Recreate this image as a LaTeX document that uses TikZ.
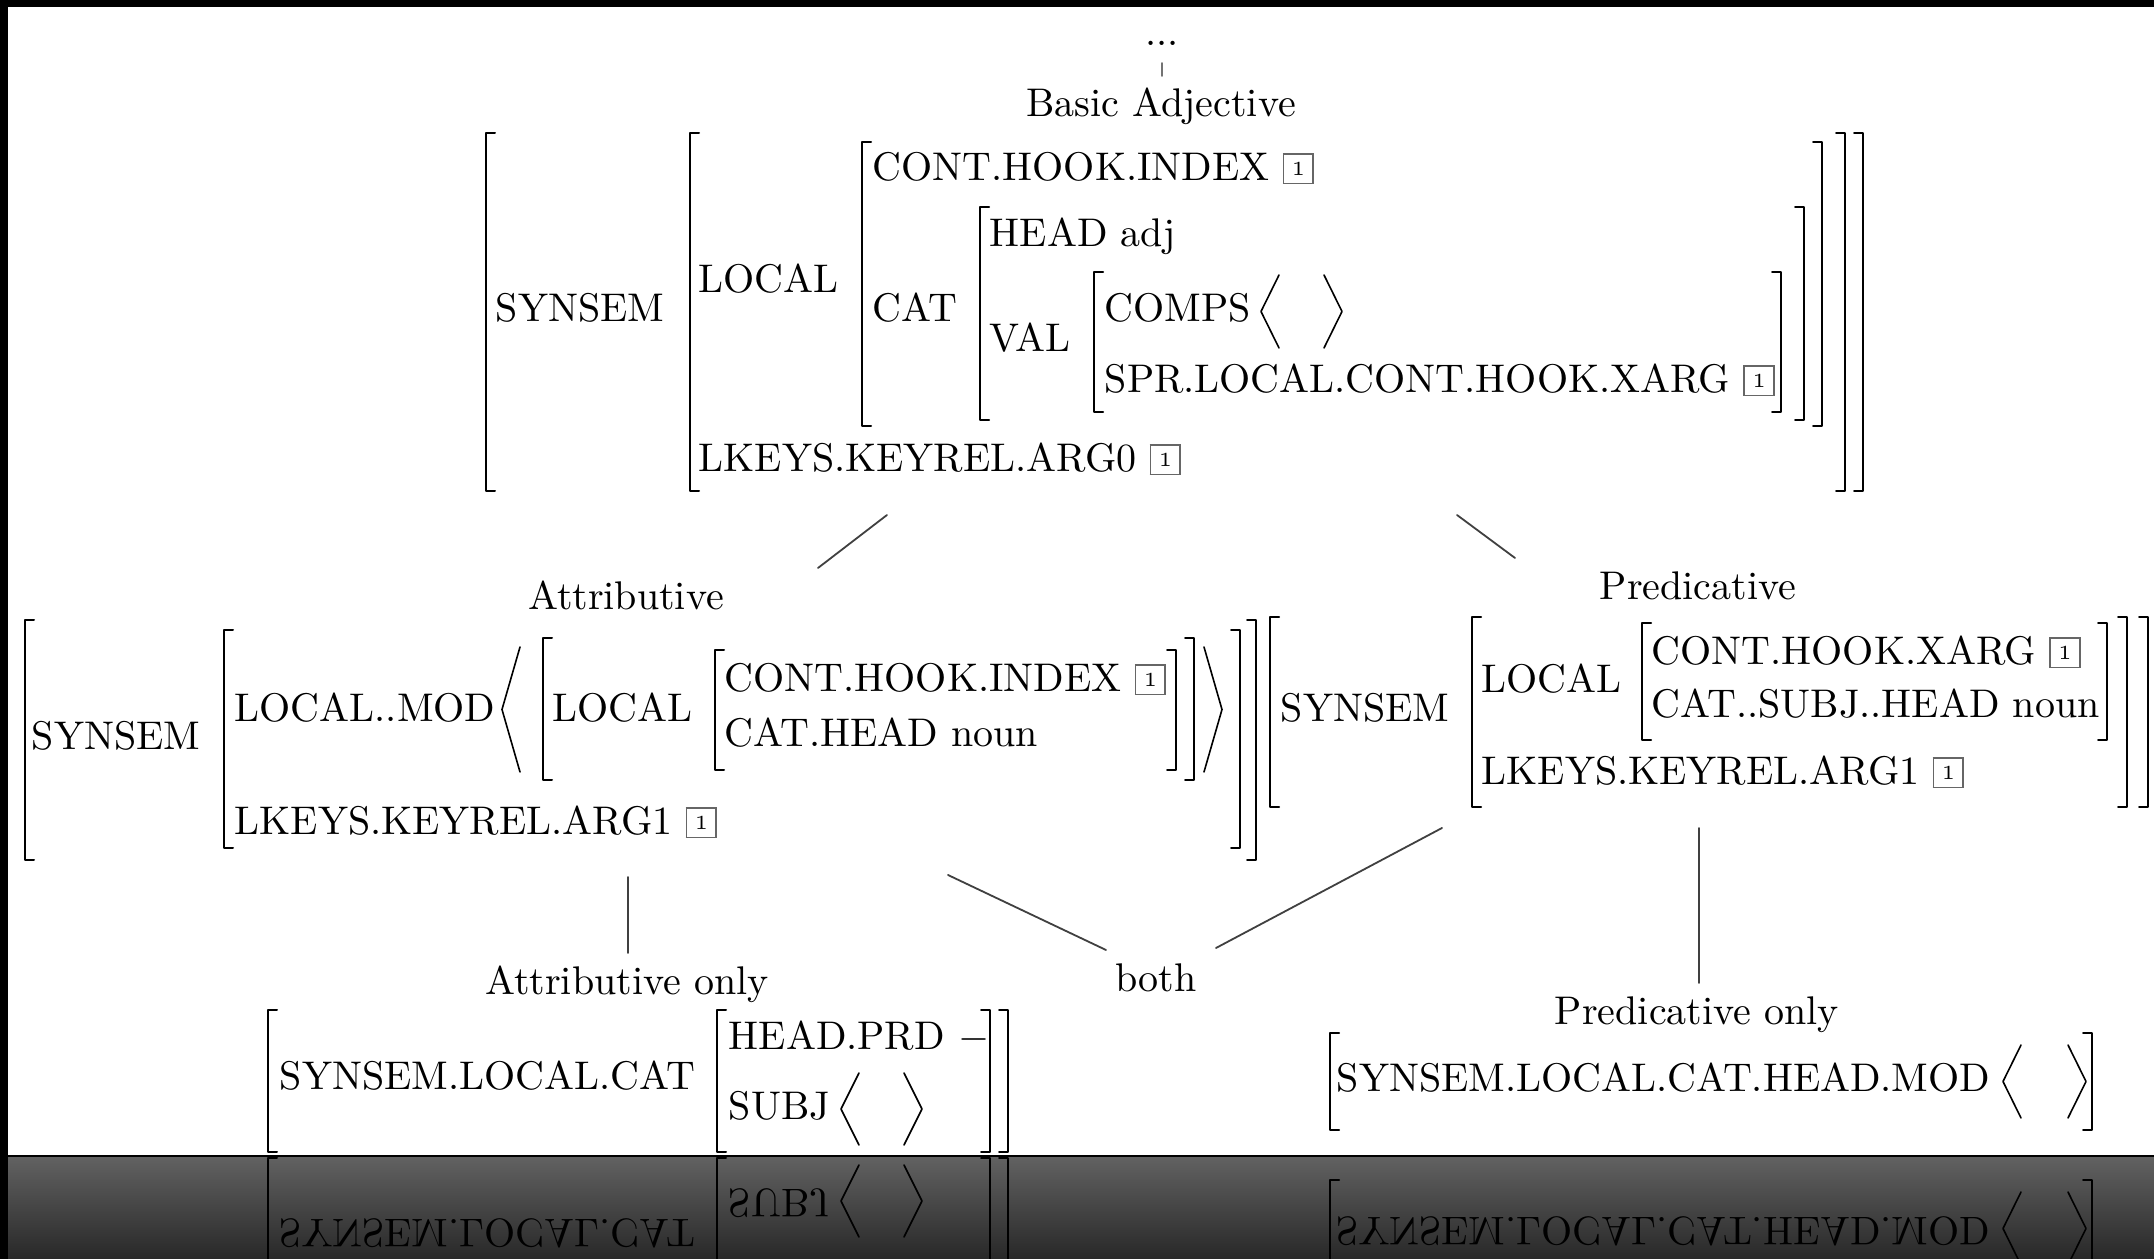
\documentclass[tikz,border=0pt]{standalone}

\newcommand{\tagbox}[1]{{\setlength{\fboxsep}{1.8pt}\setlength{\fboxrule}{0.4pt}\raisebox{1.4pt}{\fcolorbox{black!60}{white}{\tiny #1}}}}
\newcommand{\openbr}[3]{\draw[brk] (#1+9,#2) -- (#1,#2) -- (#1,#3) -- (#1+9,#3);}
\newcommand{\closebr}[3]{\draw[brk] (#1-9,#2) -- (#1,#2) -- (#1,#3) -- (#1-9,#3);}
\newcommand{\langl}[3]{\draw[ang] (#1+18,#2) -- (#1,{(#2+#3)/2}) -- (#1+18,#3);}
\newcommand{\rangl}[3]{\draw[ang] (#1,#2) -- (#1+18,{(#2+#3)/2}) -- (#1,#3);}

% lower part of the last row, drawn again as mirror image
\newcommand{\bottomavms}{%
	\openbr{268}{1010}{1152} \openbr{717}{1010}{1152}
	\closebr{990}{1010}{1152} \closebr{1008}{1010}{1152}
	\node[txt] (ao-cat) at (279,1090) {SYNSEM.LOCAL.CAT};
	\node[txt] (ao-subj) at (728,1120) {SUBJ};
	\langl{841}{1073}{1145} \rangl{904}{1073}{1145}
	\openbr{1330}{1033}{1130} \closebr{2092}{1033}{1130}
	\node[txt] (po-mod) at (1336,1092) {SYNSEM.LOCAL.CAT.HEAD.MOD};
	\langl{2003}{1045}{1118} \rangl{2068}{1045}{1118}
}

\begin{document}
\begin{tikzpicture}[x=0.25pt, y=-0.25pt, line cap=round, line join=round]
	\tikzset{txt/.style={anchor=base west, inner sep=0pt},
		lbl/.style={anchor=base, inner sep=0pt},
		brk/.style={line width=0.5pt},
		ang/.style={line width=0.4pt},
		edge/.style={line width=0.45pt, black!75}}
	\useasboundingbox (0,0) rectangle (2154,1259);
	\fill[white] (0,0) rectangle (2154,1259);
	\fill[black] (0,0) rectangle (2154,7);
	\fill[black] (0,0) rectangle (8,1259);
	
	% Basic Adjective
	\node[lbl] (dots) at (1162,46) {...};
	\node[lbl] (basic) at (1161,117) {Basic Adjective};
	\openbr{486}{133}{491} \openbr{690}{133}{491} \openbr{862}{142}{426}
	\openbr{980}{207}{420} \openbr{1094}{272}{412}
	\closebr{1781}{272}{412} \closebr{1804}{207}{420} \closebr{1822}{142}{426}
	\closebr{1845}{133}{491} \closebr{1863}{133}{491}
	\node[txt] (b-synsem) at (495,322) {SYNSEM};
	\node[txt] (b-local) at (698,293) {LOCAL};
	\node[txt] (b-index) at (872,181) {CONT.HOOK.INDEX \tagbox{1}};
	\node[txt] (b-cat) at (872,322) {CAT};
	\node[txt] (b-head) at (989,247) {HEAD adj};
	\node[txt] (b-val) at (989,352) {VAL};
	\node[txt] (b-comps) at (1104,322) {COMPS};
	\langl{1261}{275}{348} \rangl{1324}{275}{348}
	\node[txt] (b-spr) at (1104,393) {SPR.LOCAL.CONT.HOOK.XARG \tagbox{1}};
	\node[txt] (b-lkeys) at (698,472) {LKEYS.KEYREL.ARG0 \tagbox{1}};
	
	% Attributive
	\node[lbl] (attr) at (626,610) {Attributive};
	\openbr{25}{620}{860} \openbr{224}{630}{848} \openbr{543}{638}{780} \openbr{715}{650}{770}
	\closebr{1176}{650}{770} \closebr{1194}{638}{780} \closebr{1240}{630}{848} \closebr{1256}{620}{860}
	\node[txt] (a-synsem) at (31,750) {SYNSEM};
	\node[txt] (a-mod) at (234,722) {LOCAL..MOD};
	\langl{502}{647}{772} \rangl{1204}{647}{772}
	\node[txt] (a-local) at (552,722) {LOCAL};
	\node[txt] (a-index) at (724,692) {CONT.HOOK.INDEX \tagbox{1}};
	\node[txt] (a-head) at (724,747) {CAT.HEAD noun};
	\node[txt] (a-lkeys) at (234,835) {LKEYS.KEYREL.ARG1 \tagbox{1}};
	
	% Predicative
	\node[lbl] (pred) at (1698,600) {Predicative};
	\openbr{1270}{617}{807} \openbr{1472}{617}{807} \openbr{1642}{623}{740}
	\closebr{2107}{623}{740} \closebr{2127}{617}{807} \closebr{2148}{617}{807}
	\node[txt] (p-synsem) at (1280,722) {SYNSEM};
	\node[txt] (p-local) at (1481,693) {LOCAL};
	\node[txt] (p-xarg) at (1651,665) {CONT.HOOK.XARG \tagbox{1}};
	\node[txt] (p-head) at (1651,718) {CAT..SUBJ..HEAD noun};
	\node[txt] (p-lkeys) at (1481,785) {LKEYS.KEYREL.ARG1 \tagbox{1}};
	
	% last row
	\node[lbl] (attronly) at (627,995) {Attributive only};
	\node[lbl] (both) at (1156,992) {both};
	\node[lbl] (predonly) at (1697,1025) {Predicative only};
	\node[txt] (ao-prd) at (728,1050) {HEAD.PRD $-$};
	\bottomavms
	
	% tree lines
	\coordinate (dots-d) at (1162,63);
	\coordinate (basic-u) at (1162,76);
	\coordinate (basic-l) at (887,515);
	\coordinate (attr-u) at (818,568);
	\coordinate (basic-r) at (1457,515);
	\coordinate (pred-u) at (1515,558);
	\coordinate (attr-d) at (628,877);
	\coordinate (attronly-u) at (628,953);
	\coordinate (attr-r) at (948,875);
	\coordinate (both-l) at (1106,950);
	\coordinate (pred-l) at (1442,828);
	\coordinate (both-r) at (1216,948);
	\coordinate (pred-d) at (1699,828);
	\coordinate (predonly-u) at (1699,983);
	\draw[edge, black!55] (dots-d) -- (basic-u);
	\draw[edge] (basic-l) -- (attr-u);
	\draw[edge] (basic-r) -- (pred-u);
	\draw[edge] (attr-d) -- (attronly-u);
	\draw[edge] (attr-r) -- (both-l);
	\draw[edge] (pred-l) -- (both-r);
	\draw[edge] (pred-d) -- (predonly-u);
	
	% reflection strip
	\shade[top color={rgb,255:red,98;green,98;blue,98}, bottom color={rgb,255:red,40;green,40;blue,40}] (8,1156) rectangle (2154,1259);
	\begin{scope}
		\clip (8,1157) rectangle (2154,1259);
		\begin{scope}[shift={(0,2310)}, yscale=-1, every node/.append style={transform shape}]
			\bottomavms
		\end{scope}
	\end{scope}
	\draw[line width=0.5pt] (8,1156) -- (2154,1156);
\end{tikzpicture}
\end{document}
